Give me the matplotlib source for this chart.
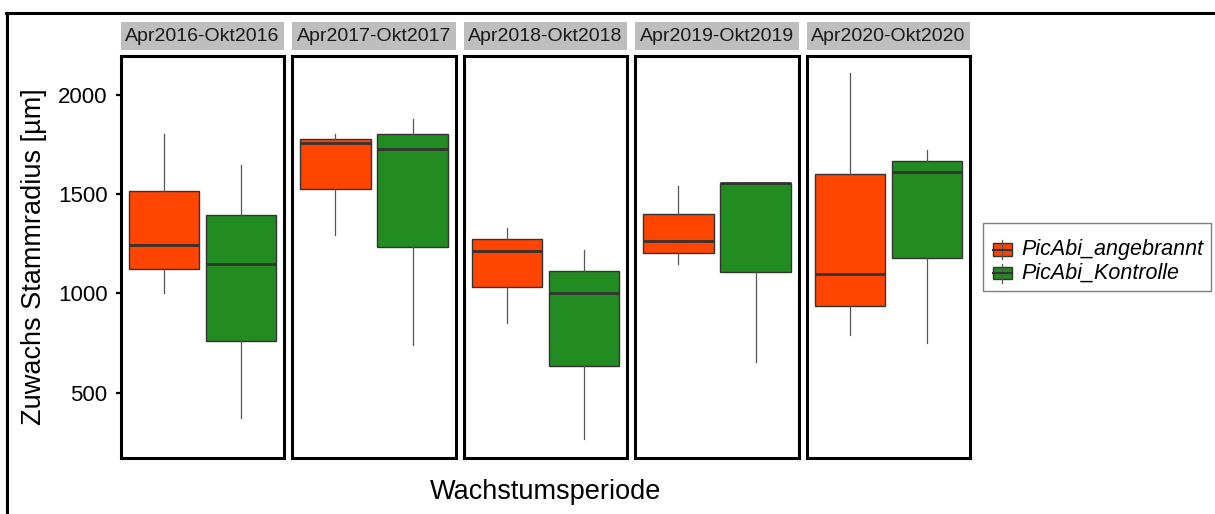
import matplotlib
matplotlib.use("Agg")
import matplotlib.pyplot as plt
from matplotlib.patches import Rectangle
from matplotlib.lines import Line2D

plt.rcParams['font.family'] = ['Liberation Sans', 'DejaVu Sans']

periods = ["Apr2016-Okt2016", "Apr2017-Okt2017", "Apr2018-Okt2018",
           "Apr2019-Okt2019", "Apr2020-Okt2020"]
groups = ["PicAbi_angebrannt", "PicAbi_Kontrolle"]
colors = ["#FF4500", "#228B22"]

# [whislo, q1, med, q3, whishi] per period
burnt = [
    [1002, 1122, 1245, 1517, 1800],
    [1294, 1524, 1755, 1778, 1804],
    [849, 1030, 1215, 1272, 1330],
    [1149, 1201, 1265, 1401, 1540],
    [789, 938, 1097, 1599, 2111],
]
control = [
    [371, 758, 1148, 1394, 1646],
    [740, 1233, 1725, 1802, 1879],
    [265, 632, 1001, 1111, 1218],
    [656, 1106, 1557, 1557, 1557],
    [751, 1176, 1611, 1666, 1723],
]
series = [burnt, control]
yticks = [500, 1000, 1500, 2000]

W, H = 1215, 514
fig = plt.figure(figsize=(W / 100, H / 100), dpi=100)

def fx(px):
    return px / W

def fy(py):
    return 1 - py / H

# outer border
fig.add_artist(Line2D([fx(7), fx(7)], [fy(12.5), fy(520)], color="black", lw=2.2))
fig.add_artist(Line2D([fx(6.2), fx(1220)], [fy(12.5), fy(12.5)], color="black", lw=2.2))

x0, pw, step = 120.7, 163.6, 171.5
ptop, pbot = 55.7, 457.7
offsets = [-0.283, 0.283]
bw = 0.518

for i, per in enumerate(periods):
    left = x0 + i * step
    ax = fig.add_axes([fx(left), fy(pbot), pw / W, (pbot - ptop) / H])
    for g in range(2):
        s = series[g][i]
        stats = [dict(whislo=s[0], q1=s[1], med=s[2], q3=s[3], whishi=s[4], fliers=[])]
        ax.bxp(stats, positions=[offsets[g]], widths=bw, patch_artist=True,
               showcaps=False, showfliers=False,
               boxprops=dict(facecolor=colors[g], edgecolor="#333333", lw=1.0),
               medianprops=dict(color="#333333", lw=2.0),
               whiskerprops=dict(color="#555555", lw=0.9))
    ax.set_xlim(-0.6, 0.6)
    ax.set_ylim(172, 2196)
    ax.set_xticks([])
    for sp in ax.spines.values():
        sp.set_linewidth(2.2)
        sp.set_color("black")
    if i == 0:
        ax.set_yticks(yticks)
        ax.set_yticklabels([str(t) for t in yticks], fontsize=16)
        ax.tick_params(axis="y", length=3.5, width=1.6, pad=6, colors="black")
        ax.set_ylabel("Zuwachs Stammradius [µm]", fontsize=19.5, labelpad=8)
    else:
        ax.set_yticks([])
    # strip
    sax = fig.add_axes([fx(left), fy(50), pw / W, (50 - 21.7) / H])
    sax.set_facecolor("#BEBEBE")
    for sp in sax.spines.values():
        sp.set_visible(False)
    sax.set_xticks([])
    sax.set_yticks([])
    sax.text(0.5, 0.47, per, ha="center", va="center", fontsize=14,
             color="#1A1A1A", transform=sax.transAxes)

fig.text(fx(545.5), fy(492), "Wachstumsperiode", ha="center", va="center", fontsize=19.5)

# legend
lax = fig.add_axes([0, 0, 1, 1], facecolor="none")
lax.set_xlim(0, W)
lax.set_ylim(H, 0)
lax.axis("off")
lax.add_patch(Rectangle((982.7, 222.7), 1211 - 982.7, 291 - 222.7, fill=False,
                        edgecolor="#7F7F7F", lw=1.0))
for g, (yc) in enumerate([249.5, 273.0]):
    lax.plot([1002.2, 1002.2], [yc - 9.5, yc + 9.5], color="#555555", lw=0.9)
    lax.add_patch(Rectangle((992.7, yc - 6.4), 19, 12.8, facecolor=colors[g],
                            edgecolor="#333333", lw=1.0))
    lax.plot([992.7, 1011.7], [yc, yc], color="#333333", lw=1.5)
    lax.text(1021, yc, groups[g], ha="left", va="center", fontsize=15.5,
             style="italic")

fig.savefig("out.png", dpi=100)
